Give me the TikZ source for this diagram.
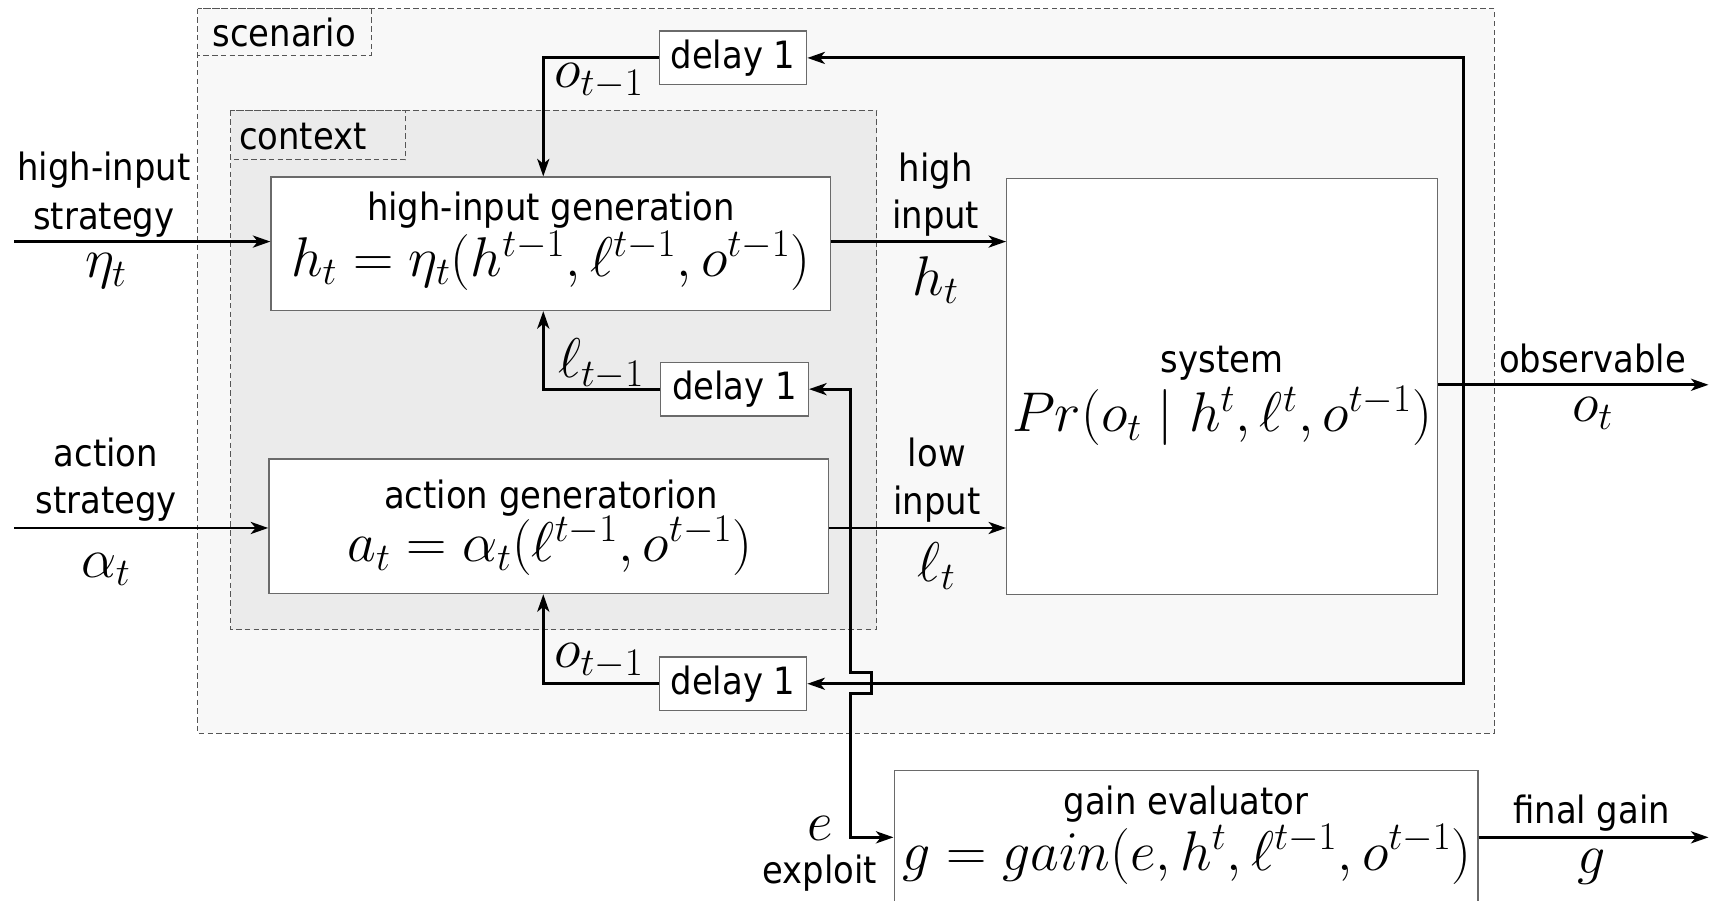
\RequirePackage{fix-cm}
\documentclass[tikz,border=0pt]{standalone}
\usepackage{fontspec}
\setmainfont{DejaVu Sans Condensed}
\usetikzlibrary{arrows.meta,calc}
\definecolor{scenfill}{HTML}{F8F8F8}
\definecolor{ctxfill}{HTML}{EBEBEB}
\definecolor{boxline}{HTML}{6A6A6A}
\definecolor{dashline}{HTML}{555555}
\begin{document}
\begin{tikzpicture}[x=0.5pt,y=-0.5pt,
  txt/.style={inner sep=0pt,font=\fontsize{17.2}{20}\selectfont},
  btxt/.style={inner sep=0pt,anchor=base,font=\fontsize{17.2}{20}\selectfont},
  bmth/.style={inner sep=0pt,anchor=base,font=\fontsize{25.6}{28}\selectfont},
  mlab/.style={inner sep=0pt,font=\fontsize{25.6}{28}\selectfont},
  blk/.style={draw=boxline,fill=white,line width=0.6pt,inner sep=0pt},
  dl/.style={blk,minimum width=67.5pt,minimum height=24.5pt,font=\fontsize{17.2}{20}\selectfont},
  region/.style={draw=dashline,line width=0.45pt,dash pattern=on 2.5pt off 1.5pt},
  tip/.style={-{Stealth[length=8pt,width=5.5pt,inset=2.2pt]}},
  conn/.style={line width=1.35pt,tip},
  lin/.style={line width=1.35pt},
]
\useasboundingbox (0,0) rectangle (1568,824);
% regions
\draw[region,fill=scenfill] (181,8) rectangle (1367,671);
\draw[region] (181,8) rectangle (340,51);
\node[txt] (scen) at (260,30) {scenario};
\draw[region,fill=ctxfill] (211,101) rectangle (802,576);
\draw[region] (211,101) rectangle (371,146);
\node[txt] (ctx) at (277,125) {context};

% blocks
\node[blk,minimum width=256pt,minimum height=61pt] (hig) at (504,223) {};
\node[blk,minimum width=256pt,minimum height=61.5pt] (actg) at (502,481.5) {};
\node[blk,minimum width=197pt,minimum height=190.5pt] (sys) at (1118,353.5) {};
\node[blk,minimum width=267pt,minimum height=80pt] (gain) at (1085,785) {};
\node[dl] (d1) at (670.5,53) {delay 1};
\node[dl] (d2) at (672,356) {delay 1};
\node[dl] (d3) at (670.5,625.5) {delay 1};

% block texts
\node[btxt] (higt) at (504,202) {high-input generation};
\node[bmth] (higf) at (504,253) {$h_t=\eta_t(h^{t-1},\ell^{t-1},o^{t-1})$};
\node[btxt] (actt) at (504,465) {action generatorion};
\node[bmth] (actf) at (503,514) {$a_t=\alpha_t(\ell^{t-1},o^{t-1})$};
\node[btxt] (syst) at (1118,341) {system};
\node[bmth] (sysf) at (1118,395) {$Pr(o_t\mid h^t,\ell^t,o^{t-1})$};
\node[btxt] (gaint) at (1085,745.5) {gain evaluator};
\node[bmth] (gainf) at (1086,796) {$g=gain(e,h^t,\ell^{t-1},o^{t-1})$};

% coordinates
\coordinate (hin) at (13,221);
\coordinate (ain) at (13,483);
\coordinate (obs) at (1563,352);
\coordinate (fg) at (1563,766);
\coordinate (fb) at (1339,352);
\coordinate (tx) at (497,0);
\coordinate (ex) at (778,0);
\coordinate (bx) at (797,0);

% inputs
\draw[conn] (hin) -- (hin -| hig.west);
\draw[conn] (ain) -- (ain -| actg.west);
\draw[conn] (hig.east |- hin) -- (hin -| sys.west);
\draw[conn] (actg.east |- ain) -- (ain -| sys.west);
\draw[conn] (sys.east |- obs) -- (obs);
% feedback
\draw[conn] (fb) |- (d1.east);
\draw[conn] (fb) |- (d3.east);
\draw[conn] (d1.west) -| (tx |- hig.north);
\draw[conn] (d2.west) -| (tx |- hig.south);
\draw[conn] (d3.west) -| (tx |- actg.south);
% exploit line with jump
\draw[lin,{Stealth[length=8pt,width=5.5pt,inset=2.2pt]}-{Stealth[length=8pt,width=5.5pt,inset=2.2pt]}]
  (d2.east) -| (ex |- 0,615) -- (bx |- 0,615) -- (bx |- 0,634) -- (ex |- 0,634) |- (gain.west |- fg);
\draw[conn] (gain.east |- fg) -- (fg);

% labels
\node[txt] (l1a) at (95,156) {high-input};
\node[txt] (l1b) at (95,201) {strategy};
\node[mlab] (l1c) at (97,248) {$\eta_t$};
\node[txt] (l2a) at (97,414) {action};
\node[txt] (l2b) at (97,461) {strategy};
\node[mlab] (l2c) at (97,521) {$\alpha_t$};
\node[txt] (l3a) at (856,157) {high};
\node[txt] (l3b) at (856,200) {input};
\node[mlab] (l3c) at (856,256) {$h_t$};
\node[txt] (l4a) at (857,414) {low};
\node[txt] (l4b) at (857,461) {input};
\node[mlab] (l4c) at (857,518) {$\ell_t$};
\node[txt] (l5a) at (1457,328) {observable};
\node[mlab] (l5b) at (1457,378) {$o_t$};
\node[txt] (l6a) at (1456,744) {final gain};
\node[mlab] (l6b) at (1456,793) {$g$};
\node[mlab] (l7a) at (750,758) {$e$};
\node[txt] (l7b) at (750,799) {exploit};
\node[mlab] (o1) at (548,74) {$o_{t-1}$};
\node[mlab] (o2) at (550,333) {$\ell_{t-1}$};
\node[mlab] (o3) at (548,605) {$o_{t-1}$};
\end{tikzpicture}
\end{document}
